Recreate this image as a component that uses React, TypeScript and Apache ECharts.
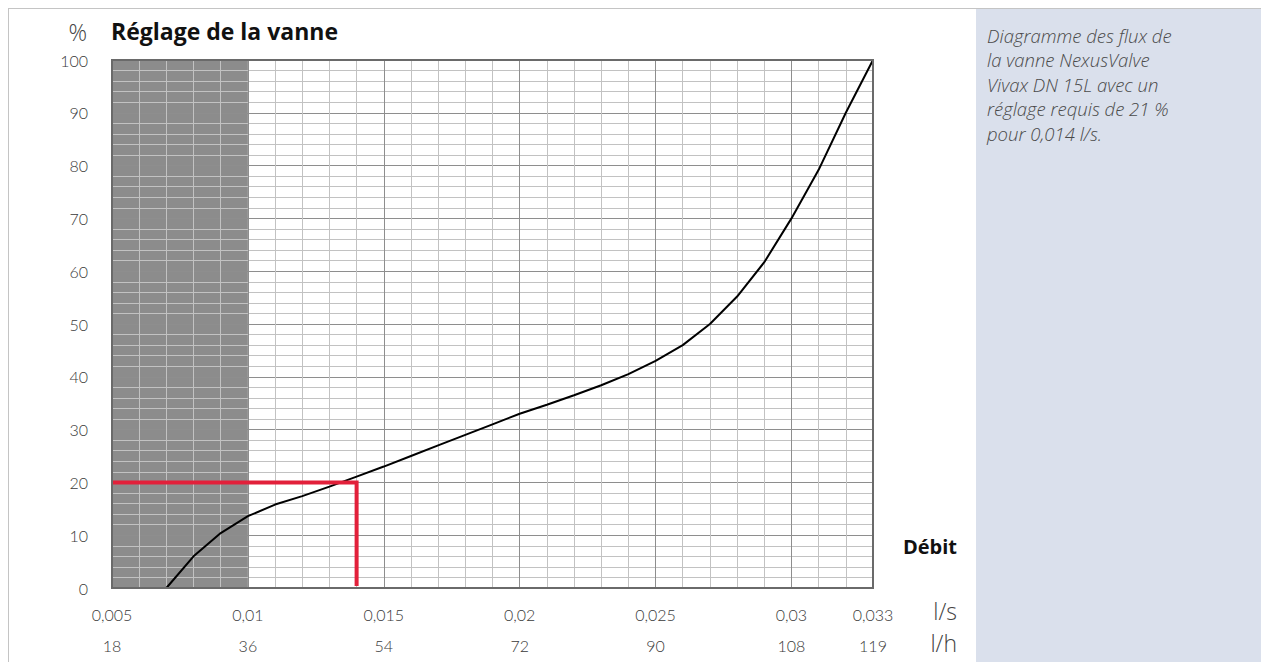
import React, { useEffect, useRef } from "react";
import * as echarts from "echarts";

// Curve: flow (l/s) vs valve setting (%)
const flowLs = [0.007, 0.008, 0.009, 0.01, 0.011, 0.012, 0.013, 0.014, 0.015, 0.016, 0.017, 0.018, 0.019, 0.02, 0.021, 0.022, 0.023, 0.024, 0.025, 0.026, 0.027, 0.028, 0.029, 0.03, 0.031, 0.032, 0.033];
const settingPct = [0, 6, 10.4, 13.6, 15.8, 17.4, 19.2, 21.1, 23.0, 25.0, 27.0, 29.0, 31.0, 33.0, 34.7, 36.5, 38.4, 40.5, 43.0, 46.0, 50.0, 55.2, 61.7, 70.0, 79.2, 90.0, 100];

// X tick labels
const tickLs = [0.005, 0.01, 0.015, 0.02, 0.025, 0.03, 0.033];
const tickLsLabels = ["0,005", "0,01", "0,015", "0,02", "0,025", "0,03", "0,033"];
const tickLhLabels = ["18", "36", "54", "72", "90", "108", "119"];

// Shaded (out-of-range) zone and required point
const shadeRange = [0.005, 0.01];
const requiredFlow = 0.014;
const requiredSetting = 20;
const redLineX = [0.005, requiredFlow, requiredFlow];
const redLineY = [requiredSetting, requiredSetting, 0.4];

const title = "Réglage de la vanne";
const noteLines = [
  "Diagramme des flux de",
  "la vanne NexusValve",
  "Vivax DN 15L avec un",
  "réglage requis de 21 %",
  "pour 0,014 l/s.",
];

const NUMFONT = "Lato";
const TXTFONT = "'Open Sans'";
const MAJOR = "#8e8e8e";
const MINOR = "#c2c2c2";
const NUMCOLOR = "#3a3a3a";

function lookup(v: number, labels: string[]) {
  const i = tickLs.findIndex((t) => Math.abs(t - v) < 1e-7);
  return i >= 0 ? labels[i] : "";
}

export default function App() {
  const ref = useRef<HTMLDivElement>(null);
  useEffect(() => {
    if (!ref.current) return;
    const chart = echarts.init(ref.current, null, { renderer: "svg" });
    const xCommon = {
      type: "value" as const,
      min: 0.005,
      max: 0.033,
      interval: 0.001,
      position: "bottom" as const,
      axisTick: { show: false },
      axisLine: { show: false },
    };
    const numLabel = {
      fontFamily: NUMFONT,
      fontWeight: 300,
      fontSize: 16,
      color: NUMCOLOR,
    };
    const noteTexts = noteLines.map((line, i) => ({
      type: "text",
      x: 987,
      y: 35 + i * 24.5,
      style: {
        text: line,
        font: `italic 300 18.5px ${TXTFONT}`,
        fill: "#4a4a4a",
        verticalAlign: "middle",
      },
    }));
    chart.setOption({
      animation: false,
      backgroundColor: "#ffffff",
      grid: {
        left: 112,
        right: 388,
        top: 60,
        bottom: 74,
        show: true,
        borderColor: "#6a6a6a",
        borderWidth: 2,
        backgroundColor: "transparent",
        z: 6,
      },
      xAxis: [
        {
          ...xCommon,
          z: 2,
          splitLine: {
            show: true,
            lineStyle: { color: [MAJOR, MINOR, MINOR, MINOR, MINOR], width: 1 },
          },
          axisLabel: {
            ...numLabel,
            interval: 0,
            hideOverlap: false,
            margin: 18,
            formatter: (v: number) => lookup(v, tickLsLabels),
          },
        },
        {
          ...xCommon,
          offset: 31,
          z: 2,
          splitLine: { show: false },
          axisLabel: {
            ...numLabel,
            interval: 0,
            hideOverlap: false,
            margin: 18,
            formatter: (v: number) => lookup(v, tickLhLabels),
          },
        },
      ],
      yAxis: {
        type: "value",
        min: 0,
        max: 100,
        interval: 2,
        z: 2,
        axisTick: { show: false },
        axisLine: { show: false },
        splitLine: {
          show: true,
          lineStyle: { color: [MAJOR, MINOR, MINOR, MINOR, MINOR], width: 1 },
        },
        axisLabel: {
          ...numLabel,
          margin: 24,
          formatter: (v: number) => (Math.round(v) % 10 === 0 ? String(Math.round(v)) : ""),
        },
      },
      series: [
        {
          type: "line",
          z: 1,
          data: [],
          silent: true,
          markArea: {
            silent: true,
            itemStyle: { color: "#8c8c8c" },
            data: [[{ xAxis: shadeRange[0], yAxis: 0 }, { xAxis: shadeRange[1], yAxis: 100 }]],
          },
        },
        {
          type: "line",
          z: 3,
          showSymbol: false,
          symbol: "none",
          lineStyle: { color: "#000", width: 2 },
          data: flowLs.map((x, i) => [x, settingPct[i]]),
        },
        {
          type: "line",
          z: 4,
          showSymbol: false,
          symbol: "none",
          lineStyle: { color: "#e2203a", width: 4, join: "miter" },
          data: redLineX.map((x, i) => [x, redLineY[i]]),
        },
      ],
      graphic: [
        { type: "line", shape: { x1: 8, y1: 8.5, x2: 1261, y2: 8.5 }, style: { stroke: "#c4c4c4", lineWidth: 1 } },
        { type: "line", shape: { x1: 8.5, y1: 8, x2: 8.5, y2: 662 }, style: { stroke: "#c4c4c4", lineWidth: 1 } },
        { type: "rect", shape: { x: 976, y: 9, width: 285, height: 653 }, style: { fill: "#dae0ec" }, z: -1 },
        ...noteTexts,
        {
          type: "text",
          x: 111,
          y: 19,
          style: { text: title, font: `bold 23px ${TXTFONT}`, fill: "#111" },
        },
        {
          type: "text",
          x: 87,
          y: 20,
          style: { text: "%", font: `300 23px ${TXTFONT}`, fill: "#444", align: "right" },
        },
        {
          type: "text",
          x: 957,
          y: 536,
          style: { text: "Débit", font: `bold 20px ${TXTFONT}`, fill: "#111", align: "right" },
        },
        {
          type: "text",
          x: 957,
          y: 599,
          style: { text: "l/s", font: `300 23px ${TXTFONT}`, fill: "#444", align: "right" },
        },
        {
          type: "text",
          x: 957,
          y: 631,
          style: { text: "l/h", font: `300 23px ${TXTFONT}`, fill: "#444", align: "right" },
        },
      ],
    });
    return () => chart.dispose();
  }, []);
  return (
    <div
      ref={ref}
      style={{ position: "fixed", left: 0, top: 0, width: 1261, height: 662 }}
    />
  );
}
